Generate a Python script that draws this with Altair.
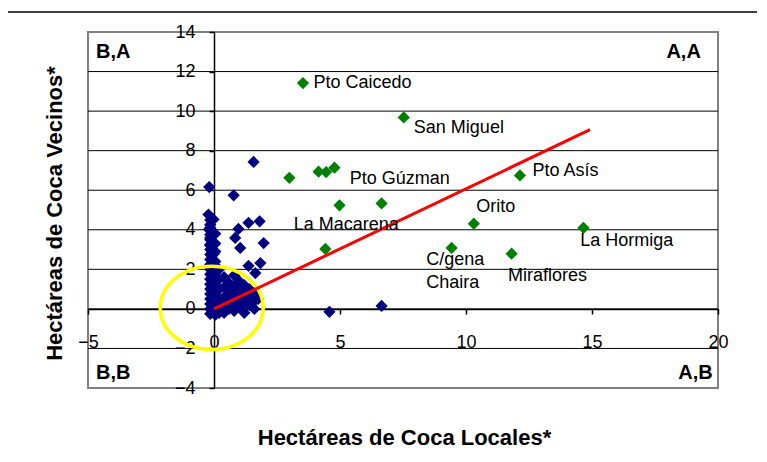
import altair as alt
import pandas as pd

FONT = "Liberation Sans"

# Blue municipalities (x = local coca hectares, y = neighbouring coca hectares)
blue_x = [1.57, -0.19, 0.78, -0.22, -0.02, 1.37, 1.81, -0.20, 0.97, -0.15, 0.84, 1.97,
          1.04, -0.15, 0.00, 1.37, 1.84, 1.64, 4.58, 6.65,
          -0.15, -0.15, -0.15, -0.15, -0.15, -0.15, -0.15, -0.15, -0.15, -0.15, -0.15,
          -0.15, -0.15, -0.15, -0.15, -0.15, -0.15, -0.15, -0.15, -0.15, -0.15,
          0.05, 0.05, 0.05, 0.05, 0.05, 0.05, 0.05, 0.05, 0.05, 0.05, 0.05,
          0.20, 0.20, 0.20, 0.20, 0.20, 0.20,
          0.40, 0.40, 0.40, 0.40, 0.40,
          0.60, 0.60, 0.60, 0.60,
          0.80, 0.80, 0.80, 0.80, 0.80,
          1.00, 1.00, 1.00, 1.00,
          1.20, 1.20, 1.20, 1.20,
          1.40, 1.40, 1.40,
          1.60, 1.60, 1.60,
          1.75]
blue_y = [7.43, 6.16, 5.74, 4.77, 4.52, 4.35, 4.43, 4.01, 4.04, 3.59, 3.59, 3.33,
          3.08, 3.00, 2.79, 2.18, 2.32, 1.81, -0.15, 0.15,
          4.50, 4.25, 3.75, 3.50, 3.25, 2.75, 2.50, 2.25, 2.00, 1.75, 1.50,
          1.25, 1.00, 0.75, 0.50, 0.25, 0.00, -0.25, 4.10, 3.20, 2.10,
          3.80, 3.30, 2.40, 2.00, 1.60, 1.20, 0.80, 0.40, 0.00, -0.30, 2.90,
          2.00, 1.50, 1.00, 0.50, 0.10, -0.20,
          1.60, 1.10, 0.60, 0.20, -0.20,
          1.30, 0.90, 0.40, 0.00,
          1.70, 1.20, 0.70, 0.30, -0.10,
          1.40, 1.00, 0.50, 0.10,
          1.20, 0.80, 0.30, -0.20,
          1.00, 0.60, 0.20,
          0.80, 0.40, 0.00,
          0.50]

# Green (named) municipalities
green_x = [3.53, 7.53, 2.99, 4.15, 4.45, 4.78, 4.98, 6.65, 4.42, 12.14, 10.31, 14.66, 9.43, 11.81]
green_y = [11.42, 9.68, 6.63, 6.94, 6.92, 7.14, 5.24, 5.33, 3.03, 6.75, 4.31, 4.10, 3.08, 2.79]

# Point labels and their anchor positions (data units)
label_text = ["Pto Caicedo", "San Miguel", "Pto Gúzman", "La Macarena", "Pto Asís",
              "Orito", "La Hormiga", "C/gena", "Chaira", "Miraflores"]
label_x = [3.95, 7.93, 5.39, 3.16, 12.64, 10.41, 14.53, 8.42, 8.42, 11.67]
label_y = [11.42, 9.17, 6.58, 4.23, 6.97, 5.14, 3.42, 2.49, 1.30, 1.68]

# Quadrant labels
quad_left_text = ["B,A", "B,B"]
quad_left_x = [-4.68, -4.68]
quad_left_y = [13.0, -3.25]
quad_right_text = ["A,A", "A,B"]
quad_right_x = [19.32, 19.79]
quad_right_y = [13.0, -3.25]

# Trend line
trend_x = [0.0, 14.92]
trend_y = [0.0, 9.06]

# Highlight ellipse centre
ellipse_x = [-0.09]
ellipse_y = [0.05]

x_ticks = [-5, 0, 5, 10, 15, 20]
y_ticks = [-4, -2, 0, 2, 4, 6, 8, 10, 12, 14]
grid_y = [-2, 0, 2, 4, 6, 8, 10, 12]

W, H = 630, 356
PAD = {"left": 80, "top": 24, "right": 39, "bottom": 60}

ax = alt.Axis(
    orient="bottom", offset=-79, values=x_ticks, grid=False,
    domainColor="black", domainWidth=1.5, tickColor="black", tickWidth=1.5, tickSize=5,
    labelFont=FONT, labelFontSize=18, labelColor="black", labelPadding=19,
    labelFlush=False, labelOverlap=False, format="d",
    title="Hectáreas de Coca Locales*", titleFont=FONT, titleFontSize=22,
    titleFontWeight="bold", titleColor="black", titleX=316, titleY=128,
    titleBaseline="middle", titleAlign="center",
)
ay = alt.Axis(
    orient="left", offset=-126, values=y_ticks, grid=False,
    domainColor="black", domainWidth=1.5, tickColor="black", tickWidth=1.5, tickSize=5,
    labelFont=FONT, labelFontSize=18, labelColor="black", labelPadding=14,
    labelFlush=False, labelOverlap=False, format="d",
    title="Hectáreas de Coca Vecinos*", titleFont=FONT, titleFontSize=22,
    titleFontWeight="bold", titleColor="black", titleX=-160, titleY=181,
    titleBaseline="middle", titleAlign="center", titleAngle=-90,
)
X = alt.X("x:Q", scale=alt.Scale(domain=[-5, 20], nice=False, zero=False), axis=ax)
Y = alt.Y("y:Q", scale=alt.Scale(domain=[-4, 14], nice=False, zero=False), axis=ay)

dummy = pd.DataFrame({"k": [0]})
frame_top = alt.Chart(dummy).mark_rule(color="black", strokeWidth=1.5).encode(
    x=alt.value(-80), x2=alt.value(W + PAD["right"]), y=alt.value(-20)
)

grid = alt.Chart(pd.DataFrame({"y": grid_y})).mark_rule(
    color="black", strokeWidth=1
).encode(y=Y)

blue = alt.Chart(pd.DataFrame({"x": blue_x, "y": blue_y})).mark_point(
    shape="diamond", filled=True, color="#000080", opacity=1, size=150
).encode(x=X, y=Y)

green = alt.Chart(pd.DataFrame({"x": green_x, "y": green_y})).mark_point(
    shape="diamond", filled=True, color="#008000", opacity=1, size=150
).encode(x=X, y=Y)

ellipse = alt.Chart(pd.DataFrame({"x": ellipse_x, "y": ellipse_y})).mark_point(
    shape="M-1,0A1,0.81,0,1,1,1,0A1,0.81,0,1,1,-1,0Z",
    filled=False, stroke="#FFFF00", strokeWidth=3.5, opacity=1, size=10609
).encode(x=X, y=Y)

trend = alt.Chart(pd.DataFrame({"x": trend_x, "y": trend_y})).mark_line(
    color="#FF0000", strokeWidth=3
).encode(x=X, y=Y)

labels = alt.Chart(pd.DataFrame({"x": label_x, "y": label_y, "t": label_text})).mark_text(
    align="left", baseline="middle", font=FONT, fontSize=18, color="black"
).encode(x=X, y=Y, text="t:N")

quad_l = alt.Chart(pd.DataFrame({"x": quad_left_x, "y": quad_left_y, "t": quad_left_text})).mark_text(
    align="left", baseline="middle", font=FONT, fontSize=20, fontWeight="bold", color="black"
).encode(x=X, y=Y, text="t:N")

quad_r = alt.Chart(pd.DataFrame({"x": quad_right_x, "y": quad_right_y, "t": quad_right_text})).mark_text(
    align="right", baseline="middle", font=FONT, fontSize=20, fontWeight="bold", color="black"
).encode(x=X, y=Y, text="t:N")

chart = alt.layer(
    frame_top, grid, blue, green, ellipse, trend, labels, quad_l, quad_r
).properties(
    width=W, height=H,
    autosize=alt.AutoSizeParams(type="none"),
    padding=PAD,
    background="white",
).configure_view(
    stroke="#808080", strokeWidth=2
)

chart.save("out.html", embed_options={"renderer": "svg", "actions": False})
